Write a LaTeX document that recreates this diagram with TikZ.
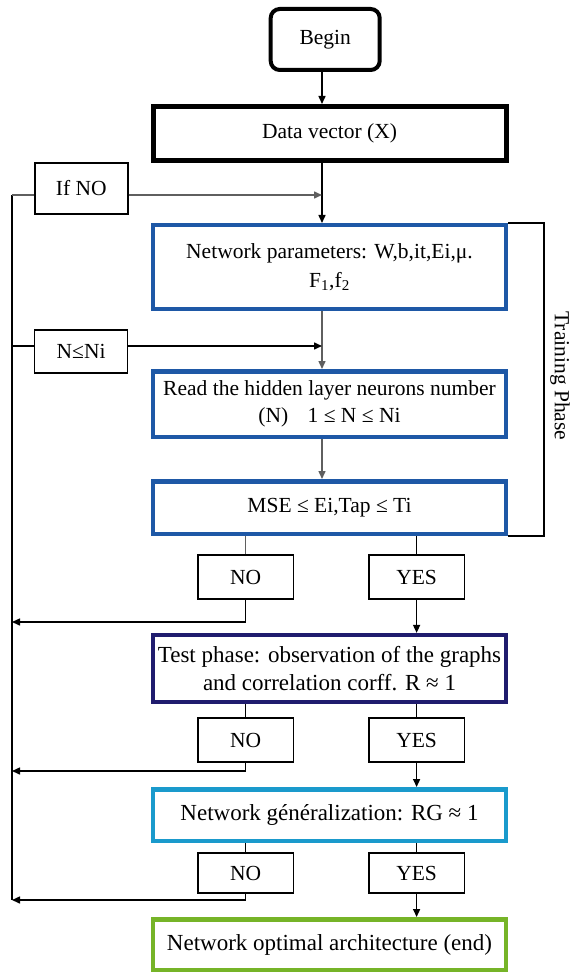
\documentclass[tikz,border=0pt]{standalone}
\usepackage{fontspec}
\setmainfont{Liberation Serif}
\usetikzlibrary{arrows.meta,calc}
\newcommand\mfs{\fontsize{21.5}{27}\selectfont}
\newcommand\bfs{\fontsize{23}{28}\selectfont}
\definecolor{netblue}{RGB}{30,88,166}
\definecolor{navyc}{RGB}{32,28,110}
\definecolor{cyanc}{RGB}{26,154,204}
\definecolor{greenc}{RGB}{118,180,40}
\definecolor{lgray}{RGB}{95,95,95}
\tikzset{
  bigbox/.style={draw, line width=4.5pt, minimum width=353pt, inner sep=0pt, align=center, font=\mfs},
  smallbox/.style={draw, line width=1.6pt, minimum width=93pt, inner sep=0pt, font=\mfs},
  arr/.style={-{Triangle[length=8pt,width=7pt]}, line width=1.5pt},
  conn/.style={line width=1.5pt},
}
\begin{document}
\begin{tikzpicture}[x=1pt,y=-1pt]
\useasboundingbox (0,0) rectangle (573,973);
% column coordinates
\coordinate (cx) at (322,0);
\coordinate (B) at (544,0);
\coordinate (L1) at (12,195);
\coordinate (L3) at (12,346);
\coordinate (R1) at (12,622);
\coordinate (R2) at (12,771);
\coordinate (R3) at (12,900);

% main boxes
\node[draw, line width=4pt, rounded corners=9pt, minimum width=109pt, minimum height=61pt, font=\mfs] (begin) at (325.2,39.5) {Begin};
\node[bigbox, line width=5pt, minimum height=54pt] (data) at (329.5,133.5) {Data vector (X)};
\node[bigbox, draw=netblue, minimum height=83.5pt] (net) at (329.5,267) {Network parameters: W,b,it,Ei,μ.\\[2pt] F\textsubscript{1},f\textsubscript{2}};
\node[bigbox, draw=netblue, minimum height=65.5pt] (read) at (329.5,404) {Read the hidden layer neurons number\\(N)\hspace{0.9em}1 ≤ N ≤ Ni};
\node[bigbox, draw=netblue, minimum height=52.5pt] (mse) at (329.5,507.5) {MSE ≤ Ei,Tap ≤ Ti};
\node[bigbox, draw=navyc, line width=4.2pt, minimum height=67pt, font=\bfs] (test) at (329.5,668.5) {Test phase: observation of the graphs\\and correlation corff. R ≈ 1};
\node[bigbox, draw=cyanc, minimum height=51.5pt, font=\bfs] (gen) at (329.5,815) {Network généralization: RG ≈ 1};
\node[bigbox, draw=greenc, minimum height=50.5pt, font=\bfs] (fin) at (329.5,944.5) {Network optimal architecture (end)};

% side boxes
\node[smallbox, minimum height=51.5pt] (ifno) at (81.3,188.5) {If NO};
\node[smallbox, minimum height=43.5pt] (nni) at (81.1,351.5) {N≤Ni};
\node[smallbox, minimum width=95.5pt, minimum height=44.5pt] (no1) at (245.7,577) {NO};
\node[smallbox, minimum width=95.5pt, minimum height=44.5pt] (yes1) at (416.6,577) {YES};
\node[smallbox, minimum width=95.5pt, minimum height=44.5pt] (no2) at (245.7,740) {NO};
\node[smallbox, minimum width=95.5pt, minimum height=44.5pt] (yes2) at (416.6,740) {YES};
\node[smallbox, minimum width=95.5pt, minimum height=40.5pt] (no3) at (245.7,873) {NO};
\node[smallbox, minimum width=95.5pt, minimum height=40.5pt] (yes3) at (416.6,873) {YES};

\node[rotate=-90, inner sep=0pt, font=\mfs] (tp) at (560,376) {Training Phase};

% main column arrows
\draw[arr] (begin.south -| cx) -- (data.north -| cx);
\draw[arr] (data.south -| cx) -- (net.north -| cx);
\draw[arr, lgray] (net.south -| cx) -- (read.north -| cx);
\draw[arr, lgray] (read.south -| cx) -- (mse.north -| cx);

% left feedback line
\draw[conn] (L1) -- (R3);
\draw[conn, lgray] (L1) -- (ifno.west |- L1);
\draw[arr, lgray] (ifno.east |- L1) -- (cx |- L1);
\draw[conn] (L3) -- (nni.west |- L3);
\draw[arr] (nni.east |- L3) -- (cx |- L3);

% training bracket
\draw[conn] (net.north east) -- (net.north east -| B) -- (mse.south east -| B) -- (mse.south east);

% decisions
\draw[conn, lgray] (mse.south -| no1) -- (no1.north);
\draw[conn] (mse.south -| yes1) -- (yes1.north);
\draw[arr] (no1.south) |- (R1);
\draw[arr] (yes1.south) -- (test.north -| yes1);

\draw[conn] (test.south -| no2) -- (no2.north);
\draw[conn] (test.south -| yes2) -- (yes2.north);
\draw[arr] (no2.south) |- (R2);
\draw[arr] (yes2.south) -- (gen.north -| yes2);

\draw[conn] (gen.south -| no3) -- (no3.north);
\draw[conn] (gen.south -| yes3) -- (yes3.north);
\draw[arr] (no3.south) |- (R3);
\draw[arr] (yes3.south) -- (fin.north -| yes3);
\end{tikzpicture}
\end{document}
